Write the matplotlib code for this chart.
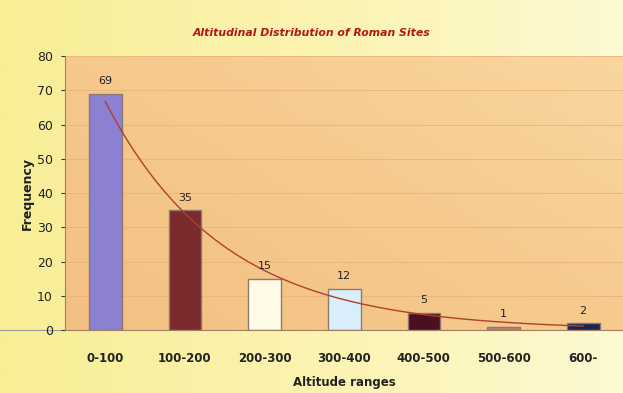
import numpy as np
import matplotlib
matplotlib.use("Agg")
import matplotlib.pyplot as plt
from matplotlib.colors import LinearSegmentedColormap

categories = ["0-100", "100-200", "200-300", "300-400", "400-500", "500-600", "600-"]
values = [69, 35, 15, 12, 5, 1, 2]
bar_colors = ["#8b80d2", "#7a2a2c", "#fffbe6", "#d9eefa", "#4b1020", "#b88468", "#1e2250"]

W, H = 623, 393
fig = plt.figure(figsize=(W / 100, H / 100), dpi=100)

# figure background gradient (yellow)
bg = fig.add_axes([0, 0, 1, 1], zorder=-10)
xx = np.linspace(0, 1, 256)
grad = np.tile(xx, (64, 1))
cmap_bg = LinearSegmentedColormap.from_list("bg", ["#f8ee96", "#fbf3b0", "#fdf9d2"])
bg.imshow(grad, aspect="auto", cmap=cmap_bg, extent=[0, 1, 0, 1])
bg.set_axis_off()
bg.plot([0, 0.105], [0.16, 0.16], color="#9a9a9a", lw=0.8)

ax = fig.add_axes([0.105, 0.16, 0.895, 0.697])
x = np.arange(len(categories))
ax.set_xlim(-0.5, len(categories) - 0.5)
ax.set_ylim(0, 80)

# plot area gradient
gy, gx = np.mgrid[0:1:64j, 0:1:128j]
g = 0.55 * gx + 0.45 * gy
cmap_pa = LinearSegmentedColormap.from_list("pa", ["#f3c083", "#f6c98c", "#f9d69e"])
ax.imshow(g, aspect="auto", cmap=cmap_pa, origin="lower",
          extent=[-0.5, len(categories) - 0.5, 0, 80], zorder=0)

for yv in range(10, 81, 10):
    ax.axhline(yv, color="#eab47c", lw=0.6, zorder=1)

bars = ax.bar(x, values, width=0.41, color=bar_colors, edgecolor="#8a7a70",
              linewidth=1.0, zorder=2)
for xi, v in zip(x, values):
    ax.text(xi, v + 2.2, str(v), ha="center", va="bottom", fontsize=8,
            color="#222222", zorder=4)

# exponential trendline
xs = np.arange(1, len(values) + 1)
b, a = np.polyfit(xs, np.log(values), 1)
xt = np.linspace(1, len(values), 200)
ax.plot(xt - 1, np.exp(a + b * xt), color="#b0402a", lw=1.0, zorder=3)

ax.set_xticks(x)
ax.set_xticklabels(categories, fontsize=8.5, fontweight="bold", color="#222222")
ax.set_yticks(range(0, 81, 10))
ax.tick_params(axis="y", labelsize=9, length=3, pad=6, colors="#333333")
ax.tick_params(axis="x", length=0, pad=16)
for lab in ax.get_yticklabels():
    lab.set_color("#222222")
for s in ["top", "right"]:
    ax.spines[s].set_visible(False)
ax.spines["left"].set_color("#a08060")
ax.spines["bottom"].set_color("#a08060")

ax.set_ylabel("Frequency", fontsize=9, fontweight="bold", color="#222222", labelpad=2)
ax.set_xlabel("Altitude ranges", fontsize=8.5, fontweight="bold", color="#222222", labelpad=8)

fig.text(0.50, 0.915, "Altitudinal Distribution of Roman Sites", ha="center", va="center",
         fontsize=7.8, fontweight="bold", style="italic", color="#b01818")

fig.savefig("out.png", dpi=100)
